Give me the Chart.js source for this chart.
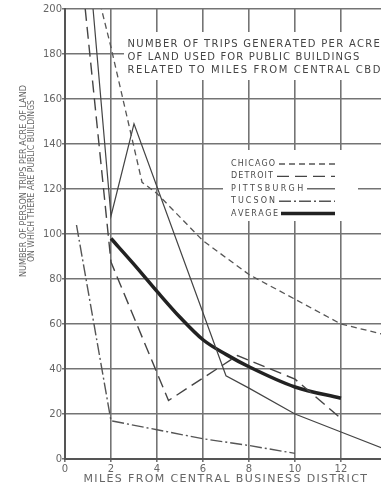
<!DOCTYPE html>
<html>
<head>
<meta charset="utf-8">
<script src="https://cdn.jsdelivr.net/npm/chart.js@4.4.0/dist/chart.umd.min.js"></script>
<style>
  html, body { margin: 0; padding: 0; background: #fff; }
  canvas { display: block; }
</style>
</head>
<body>
<canvas id="tripsChart" width="381" height="487"></canvas>
<script>
// Person trips per acre of public-building land vs. miles from the CBD

const xTickValues = [0, 2, 4, 6, 8, 10, 12];
const yTickValues = [0, 20, 40, 60, 80, 100, 120, 140, 160, 180, 200];

const chicagoMiles = [1, 2, 3.35, 4, 6, 8, 10, 12, 14];
const chicagoTrips = [224, 183, 123, 118, 97, 82, 71, 60, 55];

const detroitMiles = [0.8, 2, 4.5, 7.5, 10, 12];
const detroitTrips = [208, 87.5, 26, 46, 35.5, 18];

const pittsburghMiles = [1, 2, 3, 7, 8, 10, 12, 14];
const pittsburghTrips = [226, 108, 149, 37, 31.5, 20, 12, 4];

const tucsonMiles = [0.5, 2, 4, 6, 8, 10];
const tucsonTrips = [104, 17, 13, 9, 6, 2.5];

const averageMiles = [2, 3, 4, 5, 6, 7, 8, 10, 12];
const averageTrips = [98, 86.5, 74.5, 63, 53, 46.5, 41, 32, 27];

const titleLines = [
    'NUMBER OF TRIPS GENERATED PER ACRE',
    'OF LAND USED FOR PUBLIC BUILDINGS',
    'RELATED TO MILES FROM CENTRAL CBD'
];
const yTitleLines = [
    'NUMBER OF PERSON TRIPS PER ACRE OF LAND',
    'ON WHICH THERE ARE PUBLIC BUILDINGS'
];
const xTitle = 'MILES FROM CENTRAL BUSINESS DISTRICT';

function toPoints(xs, ys) {
    return xs.map((x, i) => ({ x: x, y: ys[i] }));
}

// draw text stretched (or squeezed) to span a given width
function spacedText(ctx, text, x, y, width, align) {
    const chars = [...text];
    const natural = ctx.measureText(text).width;
    let gap = chars.length > 1 ? (width - natural) / (chars.length - 1) : 0;
    let scaleX = 1;
    if (gap < 0) {
        scaleX = width / natural;
        gap = 0;
    }
    const start = align === 'center' ? x - width / 2 : x;
    ctx.save();
    ctx.translate(start, y);
    ctx.scale(scaleX, 1);
    ctx.textAlign = 'left';
    let cx = 0;
    chars.forEach(ch => {
        ctx.fillText(ch, cx, 0);
        cx += ctx.measureText(ch).width + gap / scaleX;
    });
    ctx.restore();
    return start + width;
}

const overlayPlugin = {
    id: 'overlay',
    beforeDraw(chart) {
        const ctx = chart.ctx;
        ctx.save();
        ctx.fillStyle = '#fff';
        ctx.fillRect(0, 0, chart.width, chart.height);
        ctx.restore();
    },
    beforeDatasetsDraw(chart) {
        // blank out the grid behind the title block and the key
        const ctx = chart.ctx;
        ctx.save();
        ctx.fillStyle = '#fff';
        ctx.fillRect(124, 32, 257, 48);
        ctx.fillRect(223, 150, 135, 71);
        ctx.restore();
    },
    afterDatasetsDraw(chart) {
        const ctx = chart.ctx;
        ctx.save();
        ctx.textBaseline = 'middle';

        // title block
        ctx.fillStyle = '#444';
        ctx.font = '10px "DejaVu Sans"';
        const titleWidths = [251, 232, 252];
        titleLines.forEach((line, i) => {
            spacedText(ctx, line, 127.5, 44 + i * 13.3, titleWidths[i], 'left');
        });

        // key
        ctx.font = '8px "DejaVu Sans"';
        const keyWidths = [44, 42, 72, 44, 46];
        chart.data.datasets.forEach((ds, i) => {
            const y = 164 + i * 12.4;
            ctx.fillStyle = '#4a4a4a';
            const end = spacedText(ctx, ds.label.toUpperCase(), 231, y, keyWidths[i], 'left');
            ctx.save();
            ctx.strokeStyle = ds.borderColor;
            ctx.lineWidth = ds.borderWidth;
            ctx.setLineDash(ds.borderDash || []);
            ctx.beginPath();
            ctx.moveTo(end + 4, y);
            ctx.lineTo(335, y);
            ctx.stroke();
            ctx.restore();
        });

        // y axis title
        ctx.fillStyle = '#666';
        ctx.font = '9px "DejaVu Sans"';
        const yTitleX = [23.5, 32];
        const yTitleWidths = [192, 162];
        yTitleLines.forEach((line, i) => {
            ctx.save();
            ctx.translate(yTitleX[i], 181);
            ctx.rotate(-Math.PI / 2);
            spacedText(ctx, line, 0, 0, yTitleWidths[i], 'center');
            ctx.restore();
        });

        // x axis title
        ctx.font = '11px "DejaVu Sans"';
        spacedText(ctx, xTitle, 83.5, 479, 283, 'left');
        ctx.restore();
    }
};

document.addEventListener('DOMContentLoaded', function() {
    const ctx = document.getElementById('tripsChart');

    const gridColor = '#747474';

    window.tripsChart = new Chart(ctx, {
        type: 'line',
        data: {
            datasets: [
                {
                    label: 'Chicago',
                    data: toPoints(chicagoMiles, chicagoTrips),
                    borderColor: '#555',
                    borderWidth: 1.3,
                    borderDash: [6, 4]
                },
                {
                    label: 'Detroit',
                    data: toPoints(detroitMiles, detroitTrips),
                    borderColor: '#444',
                    borderWidth: 1.4,
                    borderDash: [12, 6]
                },
                {
                    label: 'Pittsburgh',
                    data: toPoints(pittsburghMiles, pittsburghTrips),
                    borderColor: '#444',
                    borderWidth: 1.2
                },
                {
                    label: 'Tucson',
                    data: toPoints(tucsonMiles, tucsonTrips),
                    borderColor: '#555',
                    borderWidth: 1.4,
                    borderDash: [12, 3, 2, 3]
                },
                {
                    label: 'Average',
                    data: toPoints(averageMiles, averageTrips),
                    borderColor: '#222',
                    borderWidth: 3.5,
                    cubicInterpolationMode: 'monotone'
                }
            ]
        },
        options: {
            responsive: false,
            animation: false,
            devicePixelRatio: 1,
            layout: {
                padding: { top: 9, right: 0, bottom: 0, left: 0 }
            },
            elements: {
                point: { radius: 0 },
                line: { tension: 0, fill: false }
            },
            plugins: {
                legend: { display: false },
                tooltip: { enabled: false }
            },
            scales: {
                x: {
                    type: 'linear',
                    min: 0,
                    max: 13.74,
                    afterBuildTicks: scale => {
                        scale.ticks = xTickValues.map(v => ({ value: v }));
                    },
                    afterFit: scale => { scale.height = 28; },
                    grid: {
                        color: gridColor,
                        lineWidth: 1.6,
                        tickLength: 3,
                        tickColor: gridColor
                    },
                    border: { display: true, color: '#555', width: 2 },
                    ticks: {
                        color: '#666',
                        font: { family: 'DejaVu Sans', size: 10 },
                        padding: 1,
                        maxRotation: 0
                    }
                },
                y: {
                    type: 'linear',
                    min: 0,
                    max: 200,
                    afterBuildTicks: scale => {
                        scale.ticks = yTickValues.map(v => ({ value: v }));
                    },
                    afterFit: scale => { scale.width = 65; },
                    grid: {
                        color: gridColor,
                        lineWidth: 1.6,
                        tickLength: 3,
                        tickColor: gridColor
                    },
                    border: { display: true, color: '#555', width: 2 },
                    ticks: {
                        color: '#666',
                        font: { family: 'DejaVu Sans', size: 10 },
                        padding: 0
                    }
                }
            }
        },
        plugins: [overlayPlugin]
    });
});
</script>
</body>
</html>
